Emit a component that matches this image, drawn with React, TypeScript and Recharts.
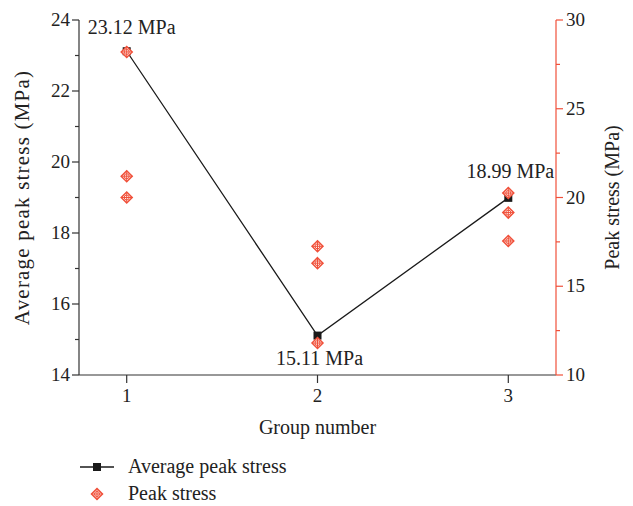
import React from 'react';
import { ComposedChart, Line, Scatter, XAxis, YAxis, LabelList, Label } from 'recharts';

// group numbers on the x axis
const groups = [1, 2, 3];
// average peak stress per group (left axis, MPa)
const avgStress = [23.12, 15.11, 18.99];
const avgLabels = ['23.12 MPa', '15.11 MPa', '18.99 MPa'];
// individual specimen peak stress per group (right axis, MPa)
const peakStress = [
  [28.2, 21.2, 20.0],
  [17.25, 16.3, 11.8],
  [20.25, 19.15, 17.55],
];

const xTicks = [1, 2, 3];
const leftTicks = [14, 15, 16, 17, 18, 19, 20, 21, 22, 23, 24];
const rightTicks = [10, 12.5, 15, 17.5, 20, 22.5, 25, 27.5, 30];

const avgData = groups.map((g, i) => ({ x: g, avg: avgStress[i], label: avgLabels[i] }));
const peakData = groups.flatMap((g, i) => peakStress[i].map((v) => ({ x: g, peak: v })));

const FONT = '"Liberation Serif", "DejaVu Serif", serif';
const AXIS = '#333333';
const RED = '#f0503a';
const txt = { fontFamily: FONT };

const LeftTick = ({ x, y, payload }: any) => {
  const major = payload.value % 2 === 0;
  return (
    <g>
      <line x1={x} x2={x - (major ? 7 : 4)} y1={y} y2={y} stroke={AXIS} strokeWidth={1.2} />
      {major && (
        <text x={x - 9} y={y} dy={6} textAnchor="end" fontSize={19} style={txt} fill="#222">
          {payload.value}
        </text>
      )}
    </g>
  );
};

const RightTick = ({ x, y, payload }: any) => {
  const major = payload.value % 5 === 0;
  return (
    <g>
      <line x1={x} x2={x + (major ? 7 : 4)} y1={y} y2={y} stroke={RED} strokeWidth={1.2} />
      {major && (
        <text x={x + 10} y={y} dy={6} textAnchor="start" fontSize={19} style={txt} fill="#222">
          {payload.value}
        </text>
      )}
    </g>
  );
};

const BottomTick = ({ x, y, payload }: any) => (
  <g>
    <line x1={x} x2={x} y1={y} y2={y + 8} stroke={AXIS} strokeWidth={1.2} />
    <text x={x} y={y + 27} textAnchor="middle" fontSize={19} style={txt} fill="#222">
      {payload.value}
    </text>
  </g>
);

const SquareDot = ({ cx, cy }: any) => (
  <rect x={cx - 4} y={cy - 4} width={8} height={8} fill="#1a1a1a" />
);

const CrossDiamond = ({ cx, cy }: any) => (
  <g>
    <path
      d={`M${cx},${cy - 5.5} L${cx + 5.5},${cy} L${cx},${cy + 5.5} L${cx - 5.5},${cy} Z`}
      fill="#fff4f2"
      stroke={RED}
      strokeWidth={1.5}
    />
    <circle cx={cx} cy={cy} r={2.5} fill="none" stroke={RED} strokeWidth={1} />
    <line x1={cx - 5.5} x2={cx + 5.5} y1={cy} y2={cy} stroke={RED} strokeWidth={1} />
    <line x1={cx} x2={cx} y1={cy - 5.5} y2={cy + 5.5} stroke={RED} strokeWidth={1} />
  </g>
);

const labelOffsets = [
  { dx: 5, dy: -17 },
  { dx: 2, dy: 29 },
  { dx: 2, dy: -20 },
];

const AvgLabel = ({ x, y, value, index }: any) => {
  const o = labelOffsets[index] || { dx: 0, dy: -15 };
  return (
    <text x={x + o.dx} y={y + o.dy} textAnchor="middle" fontSize={20} style={txt} fill="#222">
      {value}
    </text>
  );
};

export default function App() {
  return (
    <div style={{ position: 'absolute', left: 0, top: 0, width: 633, height: 506, background: '#fff' }}>
      <ComposedChart width={633} height={506} margin={{ top: 20, right: 0, bottom: 71, left: 0 }}>
        <XAxis
          xAxisId="x"
          dataKey="x"
          type="number"
          domain={[0.75, 3.25]}
          ticks={xTicks}
          interval={0}
          height={60}
          tickSize={0}
          tickMargin={0}
          tickLine={false}
          tick={<BottomTick />}
          axisLine={{ stroke: AXIS, strokeWidth: 1.2 }}
          allowDataOverflow
        >
          <Label
            content={({ viewBox }: any) => (
              <text
                x={viewBox.x + viewBox.width / 2}
                y={viewBox.y + 59}
                textAnchor="middle"
                fontSize={20}
                style={txt}
                fill="#222"
              >
                Group number
              </text>
            )}
          />
        </XAxis>
        <YAxis
          yAxisId="left"
          orientation="left"
          width={79}
          domain={[14, 24]}
          ticks={leftTicks}
          interval={0}
          tickSize={0}
          tickMargin={0}
          tickLine={false}
          tick={<LeftTick />}
          axisLine={{ stroke: AXIS, strokeWidth: 1.2 }}
          allowDataOverflow
        >
          <Label
            content={({ viewBox }: any) => (
              <text
                transform={`translate(${viewBox.x + 22},${viewBox.y + viewBox.height / 2}) rotate(-90)`}
                textAnchor="middle"
                dy={7}
                fontSize={21}
                letterSpacing={1.2}
                style={txt}
                fill="#222"
              >
                Average peak stress (MPa)
              </text>
            )}
          />
        </YAxis>
        <YAxis
          yAxisId="right"
          orientation="right"
          width={77}
          domain={[10, 30]}
          ticks={rightTicks}
          interval={0}
          tickSize={0}
          tickMargin={0}
          tickLine={false}
          tick={<RightTick />}
          axisLine={{ stroke: RED, strokeWidth: 1.2 }}
          allowDataOverflow
        >
          <Label
            content={({ viewBox }: any) => (
              <text
                transform={`translate(${viewBox.x + 56},${viewBox.y + viewBox.height / 2}) rotate(-90)`}
                textAnchor="middle"
                dy={7}
                fontSize={20}
                style={txt}
                fill="#222"
              >
                Peak stress (MPa)
              </text>
            )}
          />
        </YAxis>
        <Line
          xAxisId="x"
          yAxisId="left"
          data={avgData}
          dataKey="avg"
          stroke="#1a1a1a"
          strokeWidth={1.3}
          dot={<SquareDot />}
          activeDot={false}
          isAnimationActive={false}
        >
          <LabelList dataKey="label" content={<AvgLabel />} />
        </Line>
        <Scatter
          xAxisId="x"
          yAxisId="right"
          data={peakData}
          dataKey="peak"
          shape={<CrossDiamond />}
          isAnimationActive={false}
        />
      </ComposedChart>

      {/* Legend */}
      <div style={{ position: 'absolute', left: 78, top: 453, fontFamily: FONT, fontSize: 20, color: '#222' }}>
        <div style={{ display: 'flex', alignItems: 'center', height: 27 }}>
          <svg width={40} height={20}>
            <line x1={2} x2={36} y1={10} y2={10} stroke="#1a1a1a" strokeWidth={1.3} />
            <SquareDot cx={19} cy={10} />
          </svg>
          <span style={{ marginLeft: 10 }}>Average peak stress</span>
        </div>
        <div style={{ display: 'flex', alignItems: 'center', height: 27 }}>
          <svg width={40} height={20}>
            <CrossDiamond cx={19} cy={10} />
          </svg>
          <span style={{ marginLeft: 10 }}>Peak stress</span>
        </div>
      </div>
    </div>
  );
}
